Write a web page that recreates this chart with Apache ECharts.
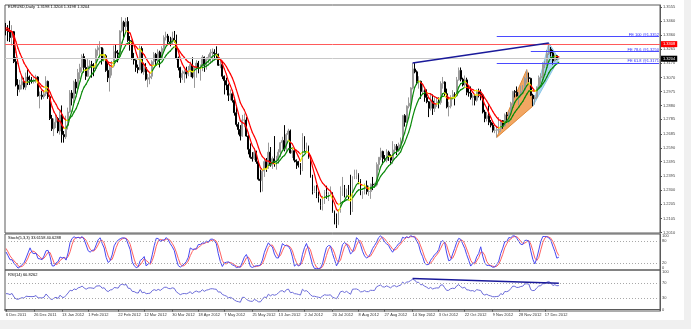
<!DOCTYPE html>
<html><head><meta charset="utf-8">
<script src="https://cdn.jsdelivr.net/npm/echarts@6/dist/echarts.min.js"></script>
<style>
html,body{margin:0;padding:0;background:#f0f0f0;}
#bg{position:absolute;left:0;top:0;width:684px;height:320px;background:#fff;}
#c{position:absolute;left:0;top:0;width:691px;height:329px;}
</style></head><body><div id="bg"></div><div id="c"></div>
<script>
// ---------- warm-up bars (Nov 2011, only used to seed indicators) ----------
const priorHighs=[1.3870,1.3790,1.3870,1.3860,1.3800,1.3850,1.3850,1.3660,1.3775,1.3800,1.3620,1.3580,1.3520,1.3610,1.3520,1.3560,1.3540,1.3395,1.3370,1.3420,1.3400,1.3550,1.3540,1.3550,1.3490];
const priorLows=[1.3610,1.3660,1.3610,1.3720,1.3650,1.3720,1.3530,1.3480,1.3600,1.3585,1.3480,1.3420,1.3410,1.3430,1.3410,1.3430,1.3340,1.3310,1.3210,1.3300,1.3270,1.3280,1.3420,1.3380,1.3380];
const priorCloses=[1.3690,1.3770,1.3800,1.3780,1.3770,1.3830,1.3540,1.3610,1.3750,1.3600,1.3530,1.3460,1.3460,1.3520,1.3480,1.3520,1.3360,1.3330,1.3240,1.3320,1.3320,1.3450,1.3460,1.3440,1.3400];

// ---------- daily bars 6 Dec 2011 .. 26 Dec 2012 ----------
const opens=[
1.3400,1.3395,1.3385,1.3345,1.3385,1.3180,1.3020,1.2990,1.3020,1.3045,1.3005,1.3075,1.3055,1.3050,1.3045,1.3050,1.3075,1.2945,1.2950,
1.2940,1.2960,1.3045,1.2940,1.2790,1.2720,1.2765,1.2790,1.2705,1.2815,1.2680,1.2665,1.2740,1.2835,1.2965,1.2930,1.3040,1.3000,1.3105,1.3140,1.3215,1.3140,
1.3080,1.3150,1.3160,1.3150,1.3135,1.3260,1.3275,1.3275,1.3195,1.3220,1.3120,1.3070,1.3140,1.3150,1.3250,1.3240,1.3230,1.3390,1.3450,1.3420,1.3455,
1.3325,1.3320,1.3200,1.3190,1.3140,1.3125,1.3270,1.3110,1.3140,1.3060,1.3070,1.3080,1.3180,1.3230,1.3190,1.3245,1.3200,1.3270,1.3345,1.3355,1.3315,1.3300,
1.3340,1.3325,1.3205,1.3140,1.3070,1.3100,1.3110,1.3095,1.3120,1.3160,1.3075,1.3140,1.3170,1.3135,1.3140,1.3210,1.3155,1.3195,1.3210,1.3240,1.3245,
1.3235,1.3230,1.3155,1.3160,1.3080,1.3050,1.3020,1.2950,1.2960,1.2915,1.2830,1.2750,1.2715,1.2670,1.2780,1.2780,1.2670,1.2580,1.2525,1.2515,1.2560,1.2495,1.2375,
1.2365,1.2430,1.2495,1.2450,1.2560,1.2470,1.2515,1.2480,1.2500,1.2560,1.2625,1.2640,1.2580,1.2680,1.2705,1.2555,1.2570,1.2505,1.2495,1.2470,1.2440,
1.2665,1.2580,1.2600,1.2525,1.2390,1.2290,1.2290,1.2255,1.2225,1.2195,1.2245,1.2290,1.2270,1.2270,1.2280,1.2155,1.2115,1.2065,1.2160,1.2295,1.2315,1.2260,
1.2305,1.2240,1.2170,1.2390,1.2400,1.2405,1.2365,1.2280,1.2290,1.2330,1.2290,1.2290,1.2340,1.2335,1.2335,1.2475,1.2525,1.2565,1.2515,1.2505,1.2560,1.2535,1.2505,
1.2575,1.2600,1.2570,1.2610,1.2635,1.2810,1.2765,1.2875,1.2895,1.3000,1.3130,1.3110,1.3045,1.3045,1.2975,1.2980,1.2935,1.2905,1.2860,1.2910,
1.2860,1.2890,1.2905,1.2900,1.3030,1.3040,1.2960,1.2870,1.2875,1.2935,1.2955,1.2945,1.3055,1.3120,1.3060,1.3020,1.3055,1.2970,1.2965,1.2935,1.2945,1.2915,1.2975,
1.2960,1.2950,1.2835,1.2790,1.2810,1.2765,1.2745,1.2710,1.2710,1.2715,1.2720,1.2775,1.2740,1.2815,1.2810,1.2830,1.2890,1.2975,1.2970,1.2945,1.2950,1.2975,
1.2985,1.3065,1.3070,1.3065,1.2950,1.2925,1.2935,1.3005,1.3070,1.3080,1.3160,1.3165,1.3235,1.3265,1.3240,1.3185,1.3220,1.3198];
const highs=[
1.3445,1.3430,1.3460,1.3430,1.3390,1.3210,1.3060,1.3055,1.3080,1.3070,1.3105,1.3125,1.3085,1.3075,1.3065,1.3090,1.3080,1.2975,1.2980,
1.2985,1.3080,1.3050,1.2950,1.2815,1.2790,1.2815,1.2800,1.2840,1.2880,1.2705,1.2810,1.2865,1.2985,1.2985,1.3050,1.3060,1.3130,1.3165,1.3230,1.3235,1.3195,
1.3200,1.3190,1.3185,1.3170,1.3270,1.3290,1.3320,1.3280,1.3270,1.3230,1.3175,1.3160,1.3185,1.3290,1.3295,1.3260,1.3395,1.3485,1.3460,1.3480,1.3485,
1.3355,1.3325,1.3240,1.3195,1.3160,1.3290,1.3285,1.3175,1.3170,1.3095,1.3110,1.3190,1.3245,1.3240,1.3265,1.3255,1.3285,1.3360,1.3385,1.3370,1.3350,1.3385,
1.3390,1.3365,1.3215,1.3145,1.3120,1.3125,1.3145,1.3150,1.3180,1.3210,1.3145,1.3190,1.3185,1.3160,1.3225,1.3215,1.3210,1.3230,1.3265,1.3270,1.3265,
1.3285,1.3235,1.3190,1.3180,1.3085,1.3070,1.3030,1.2990,1.2975,1.2935,1.2880,1.2765,1.2745,1.2815,1.2825,1.2800,1.2680,1.2620,1.2560,1.2585,1.2570,1.2500,1.2440,
1.2440,1.2515,1.2520,1.2625,1.2595,1.2530,1.2670,1.2535,1.2580,1.2630,1.2665,1.2745,1.2690,1.2720,1.2715,1.2595,1.2585,1.2510,1.2500,1.2485,1.2690,
1.2670,1.2625,1.2605,1.2535,1.2405,1.2330,1.2335,1.2290,1.2240,1.2260,1.2300,1.2330,1.2285,1.2325,1.2285,1.2160,1.2140,1.2170,1.2325,1.2390,1.2335,1.2310,
1.2335,1.2405,1.2395,1.2440,1.2440,1.2415,1.2375,1.2295,1.2345,1.2365,1.2330,1.2345,1.2390,1.2350,1.2490,1.2525,1.2590,1.2570,1.2540,1.2580,1.2570,1.2545,1.2635,
1.2615,1.2615,1.2625,1.2660,1.2815,1.2820,1.2880,1.2935,1.3005,1.3170,1.3170,1.3120,1.3080,1.3050,1.3025,1.2990,1.2990,1.2910,1.2960,1.2955,
1.2935,1.2935,1.2935,1.3045,1.3075,1.3045,1.2995,1.2905,1.2950,1.2985,1.2970,1.3075,1.3140,1.3140,1.3070,1.3085,1.3070,1.3015,1.3010,1.2955,1.2955,1.2990,1.2995,
1.2990,1.2960,1.2850,1.2835,1.2880,1.2780,1.2760,1.2735,1.2740,1.2800,1.2785,1.2780,1.2825,1.2835,1.2840,1.2905,1.2980,1.2985,1.3010,1.2970,1.3015,1.3020,
1.3075,1.3125,1.3105,1.3070,1.2960,1.2950,1.3010,1.3085,1.3100,1.3175,1.3185,1.3260,1.3308,1.3280,1.3260,1.3230,1.3225,1.3204];
const lows=[
1.3360,1.3320,1.3315,1.3290,1.3170,1.3010,1.2945,1.2970,1.2990,1.2990,1.2985,1.3020,1.3020,1.3030,1.3030,1.3035,1.2940,1.2860,1.2920,
1.2925,1.2945,1.2925,1.2780,1.2705,1.2670,1.2725,1.2690,1.2680,1.2625,1.2625,1.2650,1.2715,1.2830,1.2880,1.2900,1.2960,1.2970,1.3060,1.3110,1.3105,1.3055,
1.3075,1.3125,1.3070,1.3080,1.3115,1.3220,1.3210,1.3160,1.3180,1.3110,1.3040,1.2975,1.3085,1.3140,1.3200,1.3175,1.3215,1.3380,1.3330,1.3390,1.3315,
1.3255,1.3195,1.3160,1.3110,1.3100,1.3120,1.3100,1.3090,1.3050,1.3005,1.3025,1.3060,1.3150,1.3150,1.3180,1.3140,1.3190,1.3260,1.3325,1.3300,1.3285,1.3295,
1.3310,1.3195,1.3120,1.3035,1.3055,1.3035,1.3065,1.3080,1.3075,1.3065,1.3000,1.3070,1.3100,1.3050,1.3115,1.3110,1.3125,1.3170,1.3165,1.3175,1.3200,
1.3195,1.3150,1.3135,1.3060,1.2955,1.2985,1.2910,1.2915,1.2900,1.2810,1.2735,1.2680,1.2640,1.2665,1.2730,1.2665,1.2545,1.2515,1.2495,1.2505,1.2480,1.2365,1.2285,
1.2290,1.2390,1.2425,1.2445,1.2460,1.2445,1.2460,1.2440,1.2480,1.2525,1.2575,1.2565,1.2560,1.2645,1.2550,1.2520,1.2490,1.2445,1.2455,1.2405,1.2430,
1.2565,1.2560,1.2515,1.2385,1.2270,1.2280,1.2245,1.2215,1.2165,1.2160,1.2205,1.2240,1.2225,1.2260,1.2145,1.2065,1.2040,1.2060,1.2145,1.2260,1.2250,1.2245,
1.2230,1.2130,1.2150,1.2375,1.2375,1.2340,1.2265,1.2240,1.2270,1.2270,1.2260,1.2240,1.2300,1.2315,1.2325,1.2435,1.2505,1.2475,1.2495,1.2490,1.2500,1.2480,1.2480,
1.2560,1.2540,1.2560,1.2580,1.2620,1.2735,1.2760,1.2860,1.2850,1.2990,1.3100,1.3020,1.2995,1.2925,1.2955,1.2905,1.2895,1.2800,1.2845,1.2815,
1.2835,1.2870,1.2860,1.2885,1.2995,1.2945,1.2860,1.2805,1.2860,1.2920,1.2880,1.2940,1.3050,1.3045,1.3010,1.3010,1.2950,1.2940,1.2920,1.2880,1.2880,1.2905,1.2935,
1.2915,1.2825,1.2765,1.2770,1.2745,1.2730,1.2695,1.2690,1.2660,1.2690,1.2700,1.2720,1.2735,1.2760,1.2755,1.2825,1.2880,1.2935,1.2940,1.2880,1.2935,1.2955,
1.2980,1.3035,1.3040,1.2945,1.2875,1.2885,1.2925,1.2990,1.3030,1.3065,1.3135,1.3150,1.3225,1.3215,1.3160,1.3180,1.3195,1.3198];
const closes=[
1.3395,1.3385,1.3345,1.3385,1.3180,1.3020,1.2990,1.3020,1.3045,1.3005,1.3075,1.3055,1.3050,1.3045,1.3050,1.3075,1.2945,1.2950,1.2940,
1.2960,1.3045,1.2940,1.2790,1.2720,1.2765,1.2790,1.2705,1.2815,1.2680,1.2665,1.2740,1.2835,1.2965,1.2930,1.3040,1.3000,1.3105,1.3140,1.3215,1.3140,1.3080,
1.3150,1.3160,1.3150,1.3135,1.3260,1.3275,1.3275,1.3195,1.3220,1.3120,1.3070,1.3140,1.3150,1.3250,1.3240,1.3230,1.3390,1.3450,1.3420,1.3455,1.3325,
1.3320,1.3200,1.3190,1.3140,1.3125,1.3270,1.3110,1.3140,1.3060,1.3070,1.3080,1.3180,1.3230,1.3190,1.3245,1.3200,1.3270,1.3345,1.3355,1.3315,1.3300,1.3340,
1.3325,1.3205,1.3140,1.3070,1.3100,1.3110,1.3095,1.3120,1.3160,1.3075,1.3140,1.3170,1.3135,1.3140,1.3210,1.3155,1.3195,1.3210,1.3240,1.3245,1.3235,
1.3230,1.3155,1.3160,1.3080,1.3050,1.3020,1.2950,1.2960,1.2915,1.2830,1.2750,1.2715,1.2670,1.2780,1.2780,1.2670,1.2580,1.2525,1.2515,1.2560,1.2495,1.2375,1.2365,
1.2430,1.2495,1.2450,1.2560,1.2470,1.2515,1.2480,1.2500,1.2560,1.2625,1.2640,1.2580,1.2680,1.2705,1.2555,1.2570,1.2505,1.2495,1.2470,1.2440,1.2665,
1.2580,1.2600,1.2525,1.2390,1.2290,1.2290,1.2255,1.2225,1.2195,1.2245,1.2290,1.2270,1.2270,1.2280,1.2155,1.2115,1.2065,1.2160,1.2295,1.2315,1.2260,1.2305,
1.2240,1.2170,1.2390,1.2400,1.2405,1.2365,1.2280,1.2290,1.2330,1.2290,1.2290,1.2340,1.2335,1.2335,1.2475,1.2525,1.2565,1.2515,1.2505,1.2560,1.2535,1.2505,1.2575,
1.2600,1.2570,1.2610,1.2635,1.2810,1.2765,1.2875,1.2895,1.3000,1.3130,1.3110,1.3045,1.3045,1.2975,1.2980,1.2935,1.2905,1.2860,1.2910,1.2860,
1.2890,1.2905,1.2900,1.3030,1.3040,1.2960,1.2870,1.2875,1.2935,1.2955,1.2945,1.3055,1.3120,1.3060,1.3020,1.3055,1.2970,1.2965,1.2935,1.2945,1.2915,1.2975,1.2960,
1.2950,1.2835,1.2790,1.2810,1.2765,1.2745,1.2710,1.2710,1.2715,1.2720,1.2775,1.2740,1.2815,1.2810,1.2830,1.2890,1.2975,1.2970,1.2945,1.2950,1.2975,1.2985,
1.3065,1.3070,1.3065,1.2950,1.2925,1.2935,1.3005,1.3070,1.3080,1.3160,1.3165,1.3235,1.3265,1.3240,1.3185,1.3220,1.3198,1.3204];

// ---------- axis ticks / labels ----------
const priceTicks=[1.3555,1.3460,1.3360,1.3265,1.3170,1.3070,1.2975,1.2880,1.2785,1.2685,1.2590,1.2495,1.2395,1.2300,1.2205,1.2105,1.2010];
const labelDates=['6 Dec 2011','26 Dec 2011','13 Jan 2012','1 Feb 2012','22 Feb 2012','12 Mar 2012','30 Mar 2012','18 Apr 2012','7 May 2012','25 May 2012','13 Jun 2012','2 Jul 2012','20 Jul 2012','8 Aug 2012','27 Aug 2012','14 Sep 2012','3 Oct 2012','22 Oct 2012','9 Nov 2012','28 Nov 2012','17 Dec 2012'];
const stochTicks=[0,20,80,100];
const rsiTicks=[0,30,70,100];
const stochLevels=[80,20];
const rsiLevels=[70,30];

// ---------- drawn objects ----------
const highLevel=1.3308;
const lastPrice=1.3204;
const trendLine=[[203,1.3170],[271,1.3308]];
const rsiTrendLine=[[203,83],[276,70]];
const fibValues=[1.3352,1.3250,1.3171];
const fibNames=['FE 100 @1.3352','FE 78.6 @1.3250','FE 61.8 @1.3171'];
const fibStart=[245,262,245];
const orangeTri=[[245,1.2661],[260,1.3125],[263,1.2875]];
const blueTri=[[263,1.2875],[271,1.3308],[276,1.3200]];
const titleText='EURUSD,Daily  1.3198 1.3204 1.3198 1.3204';
const stochText='Stoch(5,3,3) 33.6158 40.6288';
const rsiText='RSI(14) 60.8262';

// ---------- categories ----------
const NCAT=327;
const MON=['Jan','Feb','Mar','Apr','May','Jun','Jul','Aug','Sep','Oct','Nov','Dec'];
const cats=[];
{let d=new Date(Date.UTC(2011,11,6));
 while(cats.length<NCAT){const wd=d.getUTCDay(); if(wd!==0&&wd!==6) cats.push(d.getUTCDate()+' '+MON[d.getUTCMonth()]+' '+d.getUTCFullYear()); d.setUTCDate(d.getUTCDate()+1);}}
const labelSet=new Set(labelDates);

// ---------- indicators ----------
const P=priorCloses.length;
const allC=priorCloses.concat(closes), allH=priorHighs.concat(highs), allL=priorLows.concat(lows);
function wma(arr,n,i){let s=0,w=0;for(let k=0;k<n&&i-k>=0;k++){s+=(n-k)*arr[i-k];w+=n-k;}return s/w;}
const fastMA=allC.map((_,i)=>wma(allC,7,i)).slice(P);
const slowMA=allC.map((_,i)=>wma(allC,15,i)).slice(P);
const MA_COLORS=['#0b8a0b','#ff0000','#f2f200'];
// segments [x0, x1, y0, y1, colourIndex]: rising green, falling red, turning bar yellow
function slopeSegments(v){const segs=[];let prev=0;
 for(let i=1;i<v.length;i++){const dir=v[i]>=v[i-1]?1:-1;
  const c=(prev!==0&&dir!==prev)?2:(dir>0?0:1);prev=dir;
  segs.push([i-1,i,v[i-1],v[i],c]);}
 return segs;}
const maSegments=slopeSegments(slowMA).concat(slopeSegments(fastMA));

// stochastic 5,3,3
const num=[],den=[],Kall=[],Dall=[];
for(let i=0;i<allC.length;i++){let ll=Infinity,hh=-Infinity;
 for(let k=Math.max(0,i-4);k<=i;k++){ll=Math.min(ll,allL[k]);hh=Math.max(hh,allH[k]);}
 num[i]=allC[i]-ll;den[i]=hh-ll;
 let sn=0,sd=0;for(let k=Math.max(0,i-2);k<=i;k++){sn+=num[k];sd+=den[k];}
 Kall[i]=sd>0?sn/sd*100:50;
 let sk=0,c=0;for(let k=Math.max(0,i-2);k<=i;k++){sk+=Kall[k];c++;}Dall[i]=sk/c;}
const stochK=Kall.slice(P),stochD=Dall.slice(P);
// RSI 14 (Wilder)
const rsiAll=[];{let ag=0,al=0;
 for(let i=1;i<allC.length;i++){const ch=allC[i]-allC[i-1],g=Math.max(ch,0),l=Math.max(-ch,0);
  if(i<=14){ag+=g/14;al+=l/14;}else{ag=(ag*13+g)/14;al=(al*13+l)/14;}
  rsiAll[i]=al===0?100:100-100/(1+ag/al);}}
const rsi=rsiAll.slice(P);

const candleData=closes.map((c,i)=>[opens[i],c,lows[i],highs[i]]);

// ---------- chart ----------
const FONT='Liberation Sans';
const chart=echarts.init(document.getElementById('c'),null,{renderer:'canvas'});
const border={show:true,borderColor:'#5a5a5a',borderWidth:1,backgroundColor:'transparent'};
const hiddenX=(gi)=>({type:'category',gridIndex:gi,data:cats,boundaryGap:true,show:false});
function polyRender(pts,fill,stroke){return function(params,api){
 if(params.dataIndex!==0) return null;
 return {type:'polygon',shape:{points:pts.map(p=>api.coord(p))},style:{fill:fill,stroke:stroke,lineWidth:1}};};}
function segRender(params,api){
 const p0=api.coord([api.value(0),api.value(2)]), p1=api.coord([api.value(1),api.value(3)]);
 return {type:'line',shape:{x1:p0[0],y1:p0[1],x2:p1[0],y2:p1[1]},style:{stroke:MA_COLORS[api.value(4)],lineWidth:1.2,lineCap:'round'}};}
const dotted={color:'#a8a8a8',type:[1,2],width:1};
const fibMarks=fibValues.map((v,k)=>[
 {coord:[fibStart[k],v],lineStyle:{color:'#4a4aff',width:1,type:'solid'},
  label:{show:true,position:'insideEndTop',formatter:fibNames[k],color:'#2b2bff',fontSize:4,fontFamily:FONT,distance:0}},
 {coord:[NCAT-1,v]}]);

chart.setOption({
 animation:false,
 textStyle:{fontFamily:FONT},
 grid:[
  Object.assign({left:5,right:31,top:5,height:228},border),
  Object.assign({left:5,right:31,top:234,height:36},border),
  Object.assign({left:5,right:31,top:270,height:41},border)
 ],
 xAxis:[hiddenX(0),hiddenX(1),
  {type:'category',gridIndex:2,data:cats,boundaryGap:true,
   axisLine:{show:true,lineStyle:{color:'#5a5a5a'}},
   axisTick:{show:true,length:2,alignWithLabel:true,interval:(i,v)=>labelSet.has(v),lineStyle:{color:'#555'}},
   axisLabel:{show:true,interval:(i,v)=>labelSet.has(v),align:'left',fontSize:4,color:'#333',margin:2,fontFamily:FONT},
   splitLine:{show:false}}],
 yAxis:[
  {type:'value',gridIndex:0,position:'right',min:1.2006,max:1.3568,
   axisLine:{show:true,lineStyle:{color:'#5a5a5a'}},
   axisTick:{show:true,length:2,customValues:priceTicks,lineStyle:{color:'#555'}},
   axisLabel:{customValues:priceTicks,formatter:v=>v.toFixed(4),fontSize:4,color:'#444',margin:3,fontFamily:FONT},
   splitLine:{show:false}},
  {type:'value',gridIndex:1,position:'right',min:0,max:100,
   axisLine:{show:true,lineStyle:{color:'#5a5a5a'}},axisTick:{show:false},
   axisLabel:{customValues:stochTicks,fontSize:4,color:'#444',margin:2,fontFamily:FONT,verticalAlignMaxLabel:'top',verticalAlignMinLabel:'bottom'},
   splitLine:{show:false}},
  {type:'value',gridIndex:2,position:'right',min:-3.7,max:105.3,
   axisLine:{show:true,lineStyle:{color:'#5a5a5a'}},axisTick:{show:false},
   axisLabel:{customValues:rsiTicks,fontSize:4,color:'#444',margin:2,fontFamily:FONT},
   splitLine:{show:false}}
 ],
 graphic:[
  {type:'text',left:8,top:5,style:{text:titleText,fontSize:4,fill:'#000',fontFamily:FONT}},
  {type:'text',left:8,top:235.5,style:{text:stochText,fontSize:4,fill:'#000',fontFamily:FONT}},
  {type:'text',left:8,top:272.5,style:{text:rsiText,fontSize:4,fill:'#000',fontFamily:FONT}}
 ],
 series:[
  {type:'candlestick',xAxisIndex:0,yAxisIndex:0,data:candleData,barWidth:1.4,z:3,
   itemStyle:{color:'#b8b8b8',color0:'#000',borderColor:'#9a9a9a',borderColor0:'#000',borderWidth:1},
   markLine:{symbol:'none',silent:true,animation:false,
    data:[
     {yAxis:highLevel,lineStyle:{color:'#ff5a5a',width:1,type:'solid'},
      label:{show:true,position:'end',formatter:highLevel.toFixed(4),backgroundColor:'#ff0000',color:'#fff',fontSize:4,padding:[1,2],distance:1,fontFamily:FONT}},
     {yAxis:lastPrice,lineStyle:{color:'#c8c8c8',width:1,type:'solid'},
      label:{show:true,position:'end',formatter:lastPrice.toFixed(4),backgroundColor:'#000',color:'#fff',fontSize:4,padding:[1,2],distance:1,fontFamily:FONT}},
     [{coord:trendLine[0],lineStyle:{color:'#1a1a9a',width:1.5,type:'solid'},label:{show:false}},{coord:trendLine[1]}]
    ].concat(fibMarks)}},
  {type:'custom',xAxisIndex:0,yAxisIndex:0,data:maSegments,renderItem:segRender,z:4,silent:true,clip:true,
   encode:{x:[0,1],y:[2,3]}},
  {type:'custom',xAxisIndex:0,yAxisIndex:0,data:orangeTri,renderItem:polyRender(orangeTri,'rgba(240,150,70,0.85)','#e08a3a'),z:1,silent:true},
  {type:'custom',xAxisIndex:0,yAxisIndex:0,data:blueTri,renderItem:polyRender(blueTri,'rgba(150,205,235,0.85)','#8cc6e6'),z:1,silent:true},
  {type:'line',xAxisIndex:1,yAxisIndex:1,data:stochK,showSymbol:false,lineStyle:{color:'#4848f0',width:1},z:4,
   markLine:{symbol:'none',silent:true,animation:false,label:{show:false},lineStyle:dotted,data:stochLevels.map(v=>({yAxis:v}))}},
  {type:'line',xAxisIndex:1,yAxisIndex:1,data:stochD,showSymbol:false,lineStyle:{color:'#ff6060',width:1},z:3},
  {type:'line',xAxisIndex:2,yAxisIndex:2,data:rsi,showSymbol:false,lineStyle:{color:'#6a6ad8',width:1},z:3,
   markLine:{symbol:'none',silent:true,animation:false,label:{show:false},lineStyle:dotted,
    data:rsiLevels.map(v=>({yAxis:v})).concat([[{coord:rsiTrendLine[0],lineStyle:{color:'#1a1a9a',width:1.5,type:'solid'}},{coord:rsiTrendLine[1]}]])}}
 ]
});
</script></body></html>
